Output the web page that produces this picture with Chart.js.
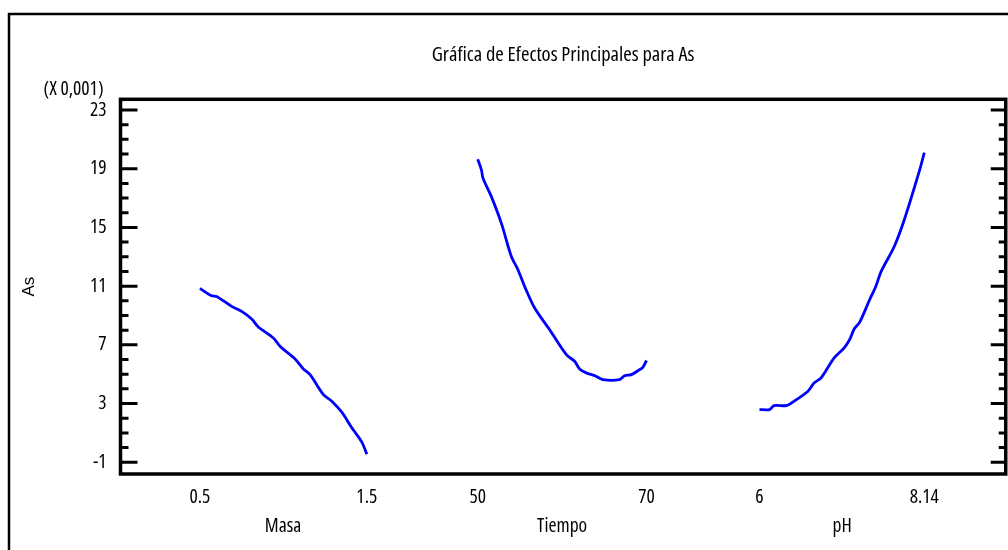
<!DOCTYPE html>
<html><head><meta charset="utf-8">
<script src="https://cdn.jsdelivr.net/npm/chart.js@4.4.0/dist/chart.umd.min.js"></script>
<style>html,body{margin:0;padding:0;background:#fff;}#wrap{width:1008px;height:550px;}</style>
</head><body><div id="wrap"><canvas id="c" width="1008" height="550"></canvas></div>
<script>
// ---- data ----
const chartTitle = 'Gráfica de Efectos Principales para As';
const yTitle = 'As';
const yScaleNote = '(X 0,001)';
const yTicks = [23, 19, 15, 11, 7, 3, -1];
const yTickLabels = ['23', '19', '15', '11', '7', '3', '-1'];
const yMinorTicks = [22, 21, 20, 18, 17, 16, 14, 13, 12, 10, 9, 8, 6, 5, 4, 2, 1, 0];

const factorNames = ['Masa', 'Tiempo', 'pH'];
const masaTicks = [0.5, 1.5];
const masaTickLabels = ['0.5', '1.5'];
const tiempoTicks = [50, 70];
const tiempoTickLabels = ['50', '70'];
const phTicks = [6, 8.14];
const phTickLabels = ['6', '8.14'];

const masaX = [0.50, 0.57, 0.60, 0.69, 0.75, 0.81, 0.85, 0.94, 0.98, 1.07, 1.12, 1.16, 1.24, 1.29, 1.35, 1.41, 1.47, 1.50];
const masaY = [10.85, 10.34, 10.30, 9.62, 9.28, 8.76, 8.22, 7.47, 6.90, 6.04, 5.36, 4.97, 3.61, 3.16, 2.41, 1.35, 0.37, -0.45];

const tiempoX = [50.0, 50.44, 50.63, 51.62, 52.80, 53.99, 54.77, 55.56, 56.75, 58.52, 60.50, 61.48, 62.07, 62.86, 63.85, 64.83, 66.80, 67.40, 68.19, 69.17, 69.56, 70.0];
const tiempoY = [19.65, 18.92, 18.35, 17.10, 15.29, 13.02, 12.12, 10.98, 9.51, 8.03, 6.33, 5.88, 5.36, 5.09, 4.90, 4.63, 4.63, 4.90, 4.97, 5.31, 5.47, 5.93];

const phX = [6.00, 6.13, 6.19, 6.35, 6.43, 6.63, 6.71, 6.80, 6.97, 7.10, 7.17, 7.23, 7.30, 7.43, 7.51, 7.58, 7.75, 7.88, 8.08, 8.14];
const phY = [2.59, 2.59, 2.86, 2.86, 3.09, 3.84, 4.41, 4.75, 6.11, 6.79, 7.35, 8.08, 8.53, 10.07, 10.98, 12.00, 13.70, 15.52, 18.92, 20.10];

// ---- chart ----
const FAM = '"Liberation Sans", Arial, sans-serif';
const NFAM = '"Open Sans", ' + FAM;
const TXT = {family: NFAM, size: 19.5, weight: 'normal condensed'};
const TITLE_FONT = {family: NFAM, size: 20.5, weight: 'normal condensed'};
Chart.defaults.color = '#000';
Chart.defaults.font.family = NFAM;
Chart.defaults.font.size = 19.5;

const toPts = (xs, ys) => xs.map((x, i) => ({x: x, y: ys[i]}));

function xAxis(ticks, labels, name, min, max, weight) {
  return {
    type: 'linear', position: 'bottom', stack: 'factors', stackWeight: weight,
    min: min, max: max,
    grid: {display: false, drawTicks: false},
    border: {display: false},
    afterBuildTicks: s => { s.ticks = ticks.map(v => ({value: v})); },
    ticks: {padding: 11.9, maxRotation: 0, autoSkip: false, font: TXT,
      callback: (v) => { const i = ticks.indexOf(v); return i >= 0 ? labels[i] : ''; }},
    title: {display: true, text: name, font: TXT, padding: {top: -6.9, bottom: 12.3}}
  };
}

const framePlugin = {
  id: 'frame',
  afterDraw(chart) {
    const {ctx, chartArea: a, scales} = chart;
    const y = scales.y;
    ctx.save();
    ctx.strokeStyle = '#000';
    ctx.lineWidth = 2.5;
    ctx.strokeRect(9, 14, 1040, 580);
    ctx.lineWidth = 3;
    ctx.beginPath();
    yTicks.forEach(v => {
      const p = y.getPixelForValue(v);
      ctx.moveTo(a.left, p); ctx.lineTo(a.left + 17, p);
      ctx.moveTo(a.right, p); ctx.lineTo(a.right - 15, p);
    });
    yMinorTicks.forEach(v => {
      const p = y.getPixelForValue(v);
      ctx.moveTo(a.left, p); ctx.lineTo(a.left + 8, p);
      ctx.moveTo(a.right, p); ctx.lineTo(a.right - 7, p);
    });
    ctx.stroke();
    ctx.lineWidth = 3.5;
    ctx.strokeRect(a.left, a.top, a.right - a.left, a.bottom - a.top);
    ctx.fillStyle = '#000';
    ctx.font = 'normal condensed 19.5px ' + NFAM;
    ctx.textAlign = 'right';
    ctx.textBaseline = 'middle';
    ctx.fillText(yScaleNote, a.left - 17, a.top - 10);
    ctx.restore();
  }
};

const lineStyle = {borderColor: '#0000FF', borderWidth: 2.8, pointRadius: 0, tension: 0.3, fill: false};

new Chart(document.getElementById('c'), {
  type: 'line',
  data: {
    datasets: [
      Object.assign({label: factorNames[0], data: toPts(masaX, masaY), xAxisID: 'xm'}, lineStyle),
      Object.assign({label: factorNames[1], data: toPts(tiempoX, tiempoY), xAxisID: 'xt'}, lineStyle),
      Object.assign({label: factorNames[2], data: toPts(phX, phY), xAxisID: 'xp'}, lineStyle)
    ]
  },
  options: {
    responsive: false, animation: false, devicePixelRatio: 1,
    layout: {padding: {left: 0, right: 1.5, top: 0, bottom: 0}},
    plugins: {
      legend: {display: false}, tooltip: {enabled: false},
      title: {display: true, text: chartTitle, font: TITLE_FONT, fullSize: false,
        padding: {top: 42.7, bottom: 32.0}, color: '#000'}
    },
    scales: {
      xm: xAxis(masaTicks, masaTickLabels, factorNames[0], 0.024, 1.972, 325),
      xt: xAxis(tiempoTicks, tiempoTickLabels, factorNames[1], 46.198, 73.80, 233),
      xp: xAxis(phTicks, phTickLabels, factorNames[2], 4.951, 9.197, 327),
      y: {
        type: 'linear', position: 'left', min: -1.8, max: 23.73,
        grid: {display: false, drawTicks: false},
        border: {display: false},
        afterFit: s => { s.width = 120.5; },
        afterBuildTicks: s => { s.ticks = yTicks.map(v => ({value: v})); },
        ticks: {padding: 14, font: TXT,
          callback: (v) => { const i = yTicks.indexOf(v); return i >= 0 ? yTickLabels[i] : ''; }},
        title: {display: true, text: yTitle, font: {family: FAM, size: 17, weight: 'normal'},
          padding: {top: 19, bottom: 0}}
      }
    }
  },
  plugins: [framePlugin]
});
</script></body></html>
